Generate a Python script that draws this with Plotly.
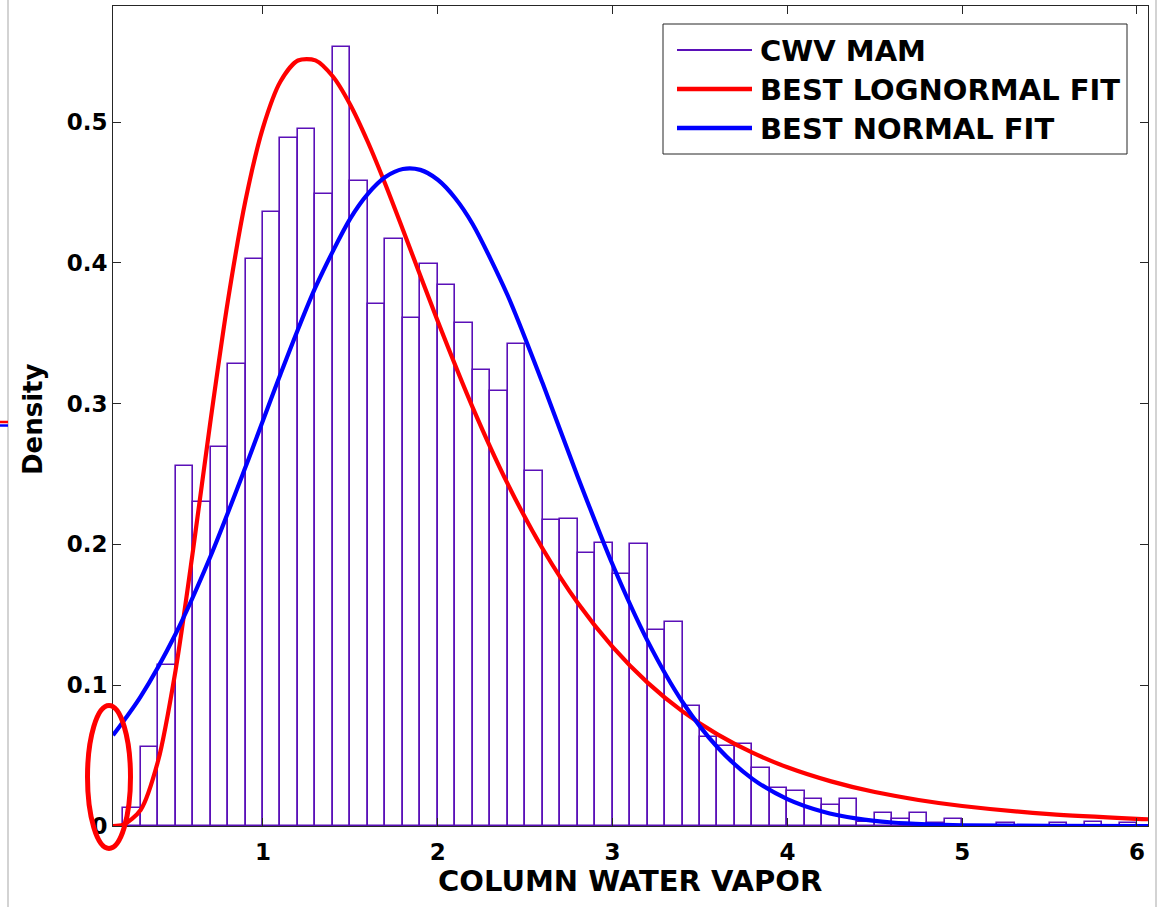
import plotly.graph_objects as go

# ---------------- data ----------------
bin_centers = [0.25, 0.35, 0.45, 0.55, 0.65, 0.75, 0.85, 0.95, 1.05, 1.15,
               1.25, 1.35, 1.45, 1.55, 1.65, 1.75, 1.85, 1.95, 2.05, 2.15,
               2.25, 2.35, 2.45, 2.55, 2.65, 2.75, 2.85, 2.95, 3.05, 3.15,
               3.25, 3.35, 3.45, 3.55, 3.65, 3.75, 3.85, 3.95, 4.05, 4.15,
               4.25, 4.35, 4.45, 4.55, 4.65, 4.75, 4.85, 4.95, 5.05, 5.15,
               5.25, 5.35, 5.45, 5.55, 5.65, 5.75, 5.85, 5.95]
cwv_density = [0.013, 0.056, 0.114, 0.256, 0.230, 0.269, 0.328, 0.403, 0.436, 0.489,
               0.495, 0.449, 0.553, 0.458, 0.371, 0.417, 0.361, 0.399, 0.384, 0.357,
               0.324, 0.309, 0.342, 0.252, 0.217, 0.218, 0.194, 0.201, 0.179, 0.200,
               0.139, 0.145, 0.085, 0.063, 0.057, 0.058, 0.041, 0.027, 0.025, 0.019,
               0.015, 0.019, 0.003, 0.0095, 0.005, 0.009, 0.002, 0.005, 0.0, 0.0,
               0.0024, 0.0, 0.0, 0.002, 0.0, 0.003, 0.0, 0.002]
bin_width = 0.1

lognorm_x = [0.142, 0.2, 0.3, 0.4, 0.5, 0.6, 0.7, 0.8, 0.9, 1.0, 1.1, 1.2, 1.3,
             1.4, 1.5, 1.6, 1.7, 1.8, 2.0, 2.2, 2.4, 2.6, 2.8, 3.0, 3.2, 3.4,
             3.6, 3.8, 4.0, 4.25, 4.5, 4.75, 5.0, 5.5, 6.0, 6.063]
lognorm_y = [0.0, 0.0009, 0.0114, 0.0463, 0.1106, 0.196, 0.288, 0.3736, 0.4443,
             0.4961, 0.5288, 0.5437, 0.5438, 0.5323, 0.5121, 0.4858, 0.4558,
             0.4237, 0.3585, 0.2972, 0.243, 0.1969, 0.1585, 0.1272, 0.1018,
             0.0814, 0.0651, 0.0521, 0.0417, 0.0317, 0.0241, 0.0185, 0.0142,
             0.0084, 0.0051, 0.0048]

normal_x = [0.142, 0.3, 0.5, 0.7, 0.9, 1.1, 1.3, 1.5, 1.6, 1.7, 1.8, 1.9, 2.0,
            2.1, 2.2, 2.4, 2.6, 2.8, 3.0, 3.2, 3.4, 3.6, 3.8, 4.0, 4.2, 4.4,
            4.6, 4.8, 5.0, 5.5, 6.063]
normal_y = [0.0644, 0.0919, 0.1364, 0.1916, 0.2549, 0.3209, 0.3825, 0.4315,
            0.449, 0.4609, 0.4666, 0.466, 0.459, 0.4459, 0.4274, 0.3768,
            0.3144, 0.2483, 0.1857, 0.1315, 0.0881, 0.0559, 0.0335, 0.0191,
            0.0103, 0.0052, 0.0025, 0.0012, 0.0005, 0.0001, 0.0]

x_ticks = [1, 2, 3, 4, 5, 6]
x_tick_labels = ["1", "2", "3", "4", "5", "6"]
y_ticks = [0, 0.1, 0.2, 0.3, 0.4, 0.5]
y_tick_labels = ["0", "0.1", "0.2", "0.3", "0.4", "0.5"]
legend_labels = ["CWV MAM", "BEST LOGNORMAL FIT", "BEST NORMAL FIT"]

# ---------------- styles ----------------
PURPLE = "#5a10b8"
RED = "#ff0000"
BLUE = "#0000ff"
AX = "#262626"
FONT = "DejaVu Sans"

W, H = 1163, 907
L, R, T, B = 113, 15, 6, 81
PW, PH = W - L - R, H - T - B


def px(xp):
    return (xp - L) / PW


def py(yp):
    return (H - B - yp) / PH


fig = go.Figure()
fig.add_trace(go.Bar(x=bin_centers, y=cwv_density, width=bin_width,
                     marker=dict(color="white", line=dict(color=PURPLE, width=1.6)),
                     name=legend_labels[0], showlegend=False))
fig.add_trace(go.Scatter(x=lognorm_x, y=lognorm_y, mode="lines",
                         line=dict(color=RED, width=4.2, shape="spline", smoothing=0.8),
                         name=legend_labels[1], showlegend=False))
fig.add_trace(go.Scatter(x=normal_x, y=normal_y, mode="lines",
                         line=dict(color=BLUE, width=4.2, shape="spline", smoothing=0.8),
                         name=legend_labels[2], showlegend=False))

tickfont = dict(family=FONT, size=23, color="black", weight="bold")
fig.update_xaxes(range=[0.142, 6.063], tickvals=x_ticks, ticktext=x_tick_labels,
                 showline=True, linecolor=AX, linewidth=1, mirror="ticks",
                 ticks="inside", ticklen=8, tickcolor=AX, showgrid=False,
                 zeroline=False, tickfont=tickfont, ticklabelstandoff=5)
fig.update_yaxes(range=[0, 0.5824], tickvals=y_ticks, ticktext=y_tick_labels,
                 showline=True, linecolor=AX, linewidth=1, mirror="ticks",
                 ticks="inside", ticklen=8, tickcolor=AX, showgrid=False,
                 zeroline=False, tickfont=tickfont)

shapes = []
annotations = []

# manual legend (box, sample lines, labels)
shapes.append(dict(type="rect", xref="paper", yref="paper",
                   x0=px(663), x1=px(1127), y0=py(154), y1=py(24),
                   line=dict(color=AX, width=1), fillcolor="white", layer="above"))
leg_colors = [PURPLE, RED, BLUE]
leg_widths = [2, 4.5, 4.5]
leg_rows = [50, 89, 128]
for lab, col, lw, ry in zip(legend_labels, leg_colors, leg_widths, leg_rows):
    shapes.append(dict(type="line", xref="paper", yref="paper",
                       x0=px(677), x1=px(752), y0=py(ry), y1=py(ry),
                       line=dict(color=col, width=lw), layer="above"))
    annotations.append(dict(text=lab, xref="paper", yref="paper",
                            x=px(758), y=py(ry + 1), xanchor="left", yanchor="middle",
                            showarrow=False,
                            font=dict(family=FONT, size=29, color="black", weight="bold")))

# axis titles
annotations.append(dict(text="COLUMN WATER VAPOR", xref="paper", yref="paper",
                        x=px(630), y=py(881), xanchor="center", yanchor="middle",
                        showarrow=False,
                        font=dict(family=FONT, size=29, color="black", weight="bold")))
annotations.append(dict(text="Density", xref="paper", yref="paper",
                        x=px(33), y=py(419), xanchor="center", yanchor="middle",
                        textangle=-90, showarrow=False,
                        font=dict(family=FONT, size=26, color="black", weight="bold")))

# red ellipse highlight drawn on the image
shapes.append(dict(type="circle", xref="paper", yref="paper",
                   x0=px(87.5), x1=px(130.5), y0=py(848.5), y1=py(705.5),
                   line=dict(color=RED, width=5), layer="above"))

# screenshot edge artefacts
shapes.append(dict(type="line", xref="paper", yref="paper",
                   x0=px(8), x1=px(8), y0=py(907), y1=py(0),
                   line=dict(color="#c4c4c4", width=1.5), layer="above"))
shapes.append(dict(type="line", xref="paper", yref="paper",
                   x0=px(1156), x1=px(1156), y0=py(907), y1=py(0),
                   line=dict(color="#c4c4c4", width=1.5), layer="above"))
shapes.append(dict(type="line", xref="paper", yref="paper",
                   x0=px(0), x1=px(8), y0=py(422), y1=py(422),
                   line=dict(color=RED, width=2.5), layer="above"))
shapes.append(dict(type="line", xref="paper", yref="paper",
                   x0=px(0), x1=px(8), y0=py(425.5), y1=py(425.5),
                   line=dict(color=BLUE, width=2.5), layer="above"))

fig.update_layout(width=W, height=H,
                  margin=dict(l=L, r=R, t=T, b=B, autoexpand=False),
                  paper_bgcolor="white", plot_bgcolor="white",
                  bargap=0, showlegend=False,
                  shapes=shapes, annotations=annotations)

fig.write_html("out.html")
